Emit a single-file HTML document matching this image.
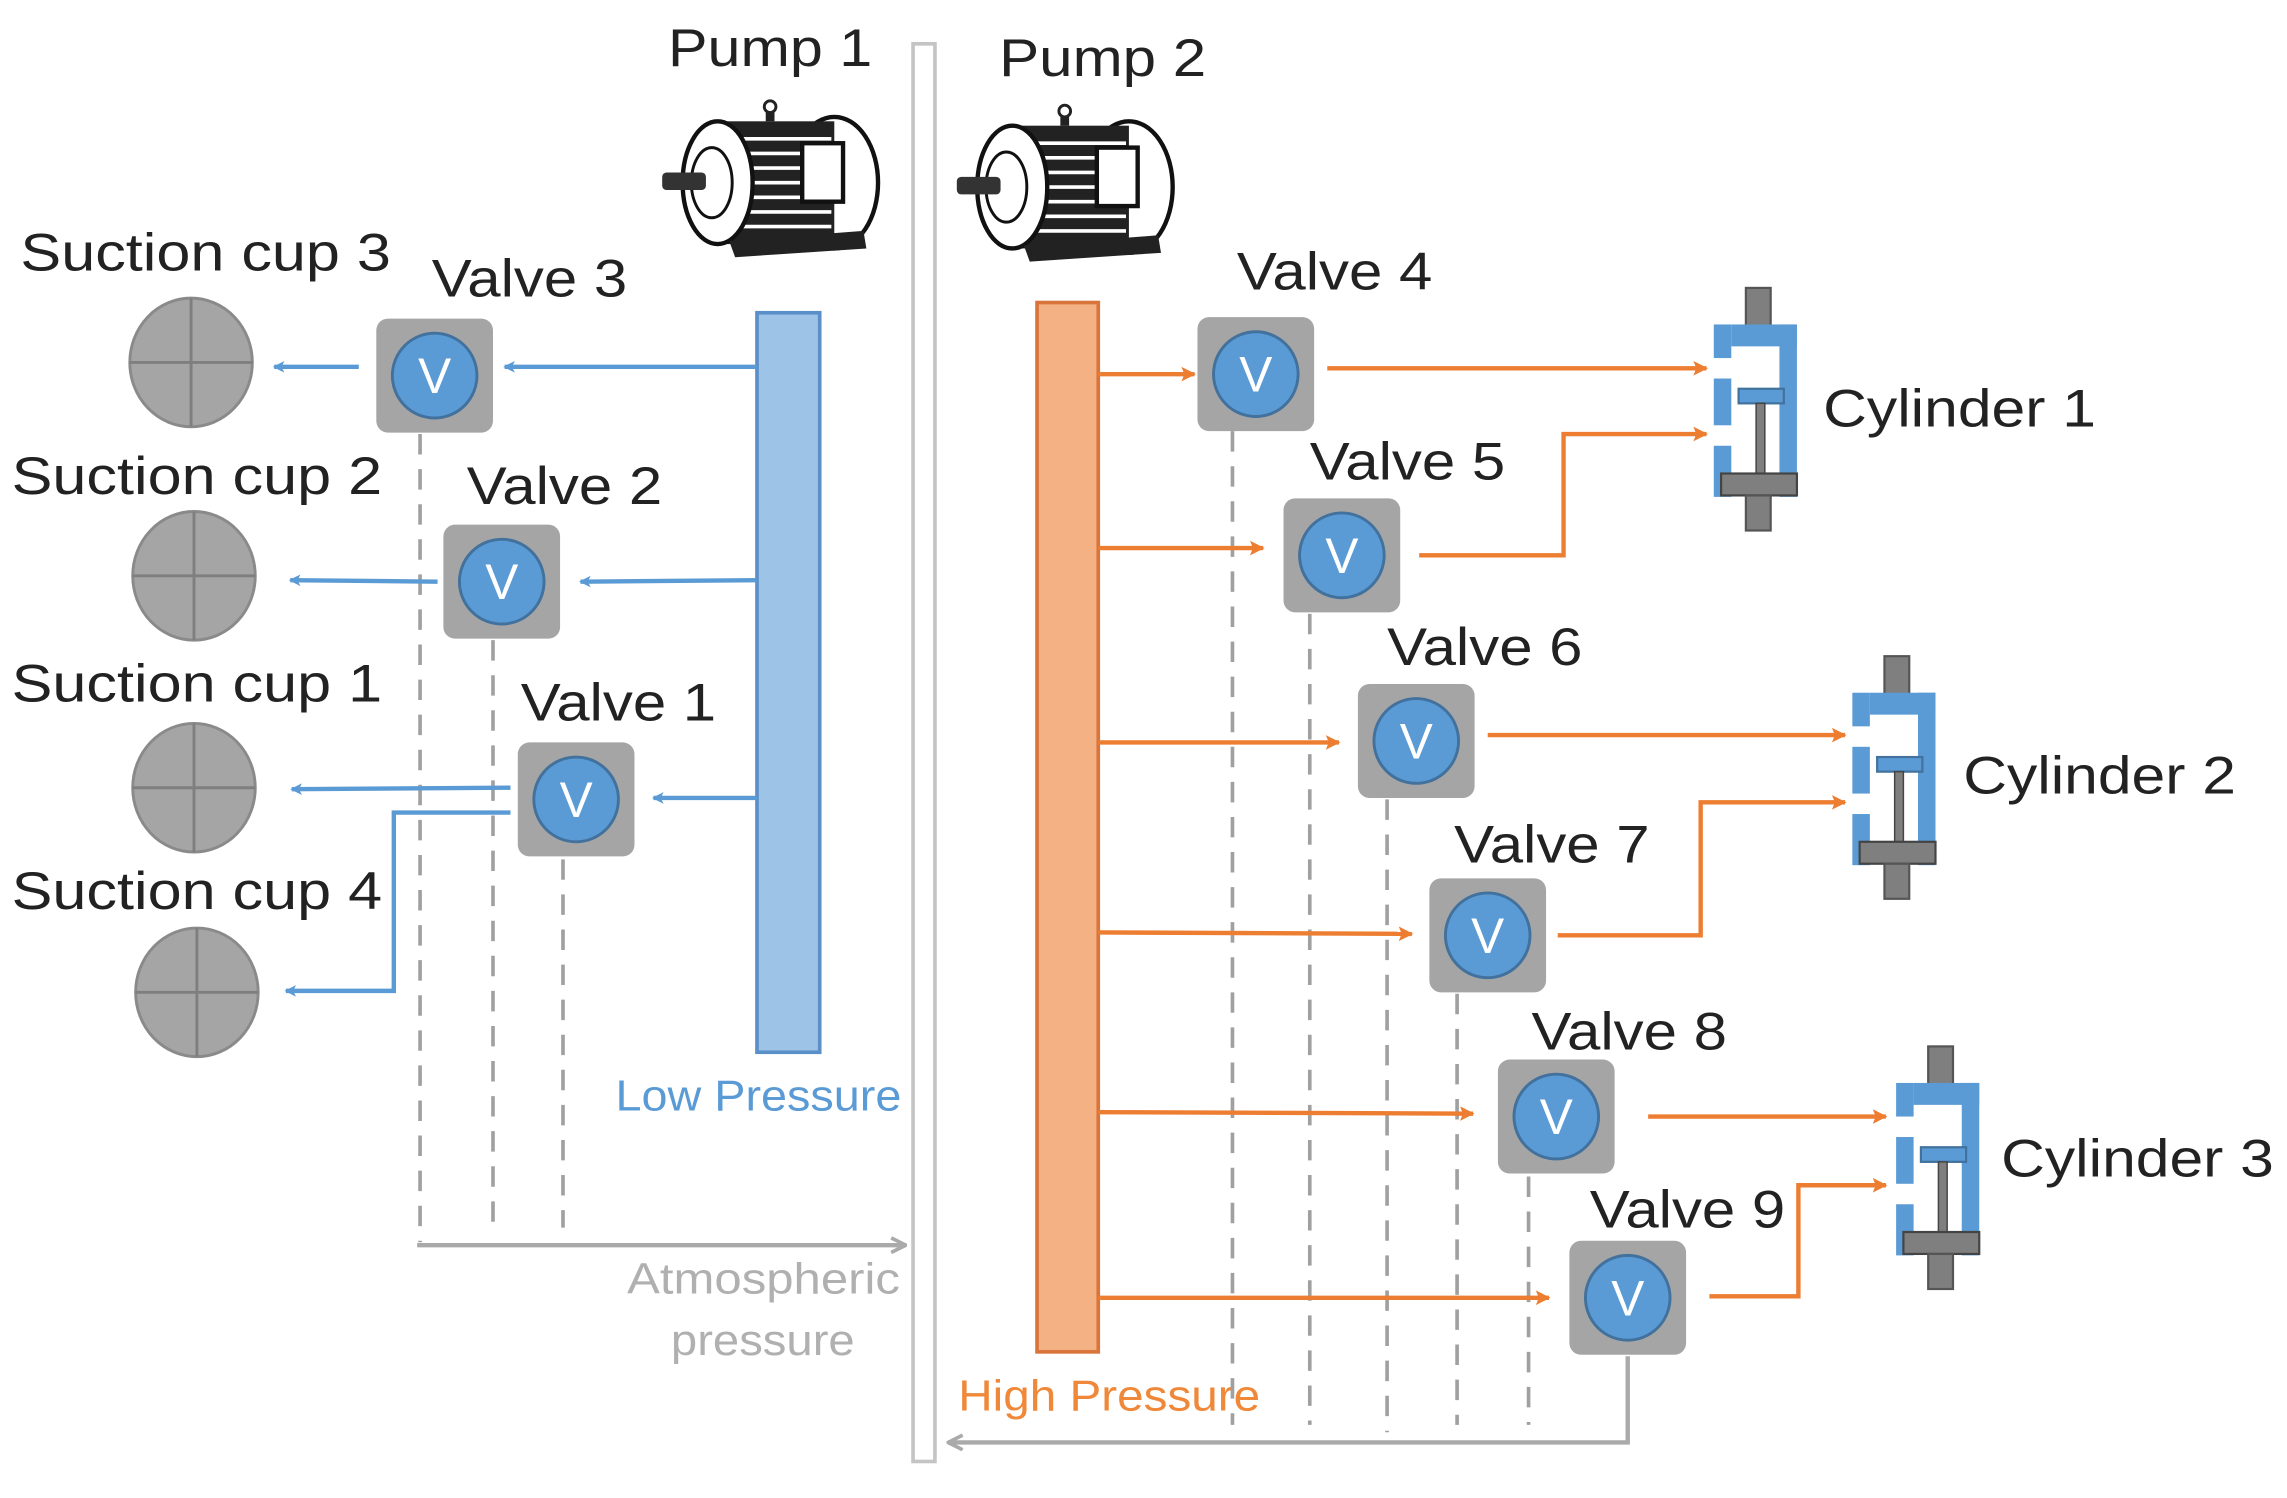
<!DOCTYPE html>
<html><head><meta charset="utf-8"><style>
html,body{margin:0;padding:0;background:#fff;}
svg{display:block;}
text{font-family:"Liberation Sans",sans-serif;}
</style></head><body>
<svg width="2287" height="1498" viewBox="0 0 1568 1025" preserveAspectRatio="none" xmlns="http://www.w3.org/2000/svg">
<defs>
<marker id="ab" markerWidth="8" markerHeight="8" refX="7" refY="4" orient="auto" markerUnits="userSpaceOnUse"><path d="M0,0 L8,4 L0,8 L2,4 Z" fill="#5b9bd5"/></marker>
<marker id="ao" markerWidth="10" markerHeight="10" refX="9" refY="5" orient="auto" markerUnits="userSpaceOnUse"><path d="M0,0 L10,5 L0,10 L2,5 Z" fill="#ed7d31"/></marker>
<marker id="ag" markerWidth="12" markerHeight="12" refX="11" refY="6" orient="auto" markerUnits="userSpaceOnUse"><path d="M1,1 L11,6 L1,11" fill="none" stroke="#aaa" stroke-width="2.5"/></marker>
<g id="valve">
<rect x="-40" y="-39" width="80" height="78" rx="8" fill="#a5a5a5"/>
<circle r="29" fill="#5b9bd5" stroke="#41719c" stroke-width="2"/>
<text x="0" y="12" text-anchor="middle" font-size="34" fill="#fff">V</text>
</g>
<g id="cup">
<ellipse rx="42" ry="44" fill="#a5a5a5" stroke="#8a8a8a" stroke-width="2"/>
<line x1="-42" y1="0" x2="42" y2="0" stroke="#7f7f7f" stroke-width="2"/>
<line x1="0" y1="-44" x2="0" y2="44" stroke="#7f7f7f" stroke-width="2"/>
</g>
<g id="cyl">
<rect x="22" y="0" width="17" height="26" fill="#7f7f7f" stroke="#555" stroke-width="1.5"/>
<rect x="0" y="25" width="12" height="23" fill="#5b9bd5"/>
<rect x="0" y="62" width="12" height="32" fill="#5b9bd5"/>
<rect x="0" y="108" width="12" height="35" fill="#5b9bd5"/>
<rect x="12" y="25" width="45" height="15" fill="#5b9bd5"/>
<rect x="45" y="25" width="12" height="118" fill="#5b9bd5"/>
<rect x="17" y="69" width="31" height="10" fill="#5b9bd5" stroke="#41719c" stroke-width="1.5"/>
<rect x="29" y="79" width="6" height="48" fill="#7f7f7f" stroke="#444" stroke-width="1"/>
<rect x="5" y="127" width="52" height="15" fill="#7f7f7f" stroke="#444" stroke-width="1.5"/>
<rect x="22" y="142" width="17" height="24" fill="#7f7f7f" stroke="#555" stroke-width="1.5"/>
</g>
<g id="motor">
<ellipse cx="120" cy="55" rx="30" ry="45" fill="#fff" stroke="#111" stroke-width="3"/>
<rect x="40" y="13" width="80" height="84" fill="#222"/>
<g stroke="#fff" stroke-width="2.5">
<line x1="48" y1="25" x2="118" y2="25"/><line x1="48" y1="35" x2="118" y2="35"/><line x1="48" y1="45" x2="118" y2="45"/><line x1="48" y1="55" x2="118" y2="55"/><line x1="48" y1="65" x2="118" y2="65"/><line x1="48" y1="75" x2="118" y2="75"/><line x1="48" y1="85" x2="118" y2="85"/>
</g>
<rect x="98" y="28" width="28" height="40" fill="#fff" stroke="#111" stroke-width="3"/>
<ellipse cx="40" cy="55" rx="24" ry="42" fill="#fff" stroke="#111" stroke-width="3"/>
<ellipse cx="36" cy="55" rx="14" ry="24" fill="#fff" stroke="#111" stroke-width="2"/>
<rect x="2" y="48" width="30" height="12" rx="3" fill="#333"/>
<path d="M48,95 L140,88 L142,100 L52,106 Z" fill="#222"/>
<rect x="73" y="0" width="6" height="13" fill="#222"/>
<circle cx="76" cy="3" r="4" fill="#fff" stroke="#222" stroke-width="2"/>
</g>
</defs>

<rect x="626" y="30" width="15" height="970" fill="#fff" stroke="#c4c4c4" stroke-width="2.5"/>

<text x="458" y="45" font-size="36" fill="#222" textLength="140" lengthAdjust="spacingAndGlyphs">Pump 1</text>
<text x="685" y="52" font-size="36" fill="#222" textLength="142" lengthAdjust="spacingAndGlyphs">Pump 2</text>
<use href="#motor" x="452" y="70"/>
<use href="#motor" x="654" y="73"/>

<rect x="519" y="214" width="43" height="506" fill="#9dc3e6" stroke="#5b8fc7" stroke-width="2.5"/>
<rect x="711" y="207" width="42" height="718" fill="#f4b183" stroke="#d9743a" stroke-width="2.5"/>
<text x="422" y="760" font-size="30" fill="#5b9bd5" textLength="196" lengthAdjust="spacingAndGlyphs">Low Pressure</text>
<text x="657" y="965" font-size="30" fill="#f0883a" textLength="207" lengthAdjust="spacingAndGlyphs">High Pressure</text>
<text x="430" y="885" font-size="30" fill="#b0b0b0" textLength="187" lengthAdjust="spacingAndGlyphs">Atmospheric</text>
<text x="460" y="927" font-size="30" fill="#b0b0b0" textLength="126" lengthAdjust="spacingAndGlyphs">pressure</text>

<g stroke="#a0a0a0" stroke-width="2.5" stroke-dasharray="14,10" fill="none">
<line x1="288" y1="297" x2="288" y2="850"/>
<line x1="338" y1="438" x2="338" y2="840"/>
<line x1="386" y1="588" x2="386" y2="840"/>
<line x1="845" y1="295" x2="845" y2="975"/>
<line x1="898" y1="420" x2="898" y2="975"/>
<line x1="951" y1="547" x2="951" y2="980"/>
<line x1="999" y1="680" x2="999" y2="975"/>
<line x1="1048" y1="805" x2="1048" y2="975"/>
</g>
<path d="M286,852 L621,852" stroke="#aaa" stroke-width="3" fill="none" marker-end="url(#ag)"/>
<path d="M1116,928 L1116,987 L650,987" stroke="#aaa" stroke-width="3" fill="none" marker-end="url(#ag)"/>

<use href="#cup" x="131" y="248"/>
<use href="#cup" x="133" y="394"/>
<use href="#cup" x="133" y="539"/>
<use href="#cup" x="135" y="679"/>
<g font-size="36" fill="#222">
<text x="14" y="185" textLength="254" lengthAdjust="spacingAndGlyphs">Suction cup 3</text>
<text x="8" y="338" textLength="254" lengthAdjust="spacingAndGlyphs">Suction cup 2</text>
<text x="8" y="480" textLength="254" lengthAdjust="spacingAndGlyphs">Suction cup 1</text>
<text x="8" y="622" textLength="254" lengthAdjust="spacingAndGlyphs">Suction cup 4</text>
</g>

<g stroke="#5b9bd5" stroke-width="3" fill="none">
<path d="M519,251 L346,251" marker-end="url(#ab)"/>
<path d="M246,251 L188,251" marker-end="url(#ab)"/>
<path d="M519,397 L398,398" marker-end="url(#ab)"/>
<path d="M300,398 L199,397" marker-end="url(#ab)"/>
<path d="M519,546 L448,546" marker-end="url(#ab)"/>
<path d="M350,539 L200,540" marker-end="url(#ab)"/>
<path d="M350,556 L270,556 L270,678 L196,678" marker-end="url(#ab)"/>
</g>

<g stroke="#ed7d31" stroke-width="3" fill="none">
<path d="M753,256 L819,256" marker-end="url(#ao)"/>
<path d="M753,375 L866,375" marker-end="url(#ao)"/>
<path d="M753,508 L918,508" marker-end="url(#ao)"/>
<path d="M753,638 L968,639" marker-end="url(#ao)"/>
<path d="M753,761 L1010,762" marker-end="url(#ao)"/>
<path d="M753,888 L1062,888" marker-end="url(#ao)"/>
<path d="M910,252 L1170,252" marker-end="url(#ao)"/>
<path d="M973,380 L1072,380 L1072,297 L1170,297" marker-end="url(#ao)"/>
<path d="M1020,503 L1265,503" marker-end="url(#ao)"/>
<path d="M1068,640 L1166,640 L1166,549 L1265,549" marker-end="url(#ao)"/>
<path d="M1130,764 L1293,764" marker-end="url(#ao)"/>
<path d="M1172,887 L1233,887 L1233,811 L1293,811" marker-end="url(#ao)"/>
</g>

<use href="#valve" x="298" y="257"/>
<use href="#valve" x="344" y="398"/>
<use href="#valve" x="395" y="547"/>
<use href="#valve" x="861" y="256"/>
<use href="#valve" x="920" y="380"/>
<use href="#valve" x="971" y="507"/>
<use href="#valve" x="1020" y="640"/>
<use href="#valve" x="1067" y="764"/>
<use href="#valve" x="1116" y="888"/>
<g font-size="36" fill="#222">
<text x="296" y="203" textLength="134" lengthAdjust="spacingAndGlyphs">Valve 3</text>
<text x="320" y="345" textLength="134" lengthAdjust="spacingAndGlyphs">Valve 2</text>
<text x="357" y="493" textLength="134" lengthAdjust="spacingAndGlyphs">Valve 1</text>
<text x="848" y="198" textLength="134" lengthAdjust="spacingAndGlyphs">Valve 4</text>
<text x="898" y="328" textLength="134" lengthAdjust="spacingAndGlyphs">Valve 5</text>
<text x="951" y="455" textLength="134" lengthAdjust="spacingAndGlyphs">Valve 6</text>
<text x="997" y="590" textLength="134" lengthAdjust="spacingAndGlyphs">Valve 7</text>
<text x="1050" y="718" textLength="134" lengthAdjust="spacingAndGlyphs">Valve 8</text>
<text x="1090" y="840" textLength="134" lengthAdjust="spacingAndGlyphs">Valve 9</text>
</g>

<use href="#cyl" x="1175" y="197"/>
<use href="#cyl" x="1270" y="449"/>
<use href="#cyl" x="1300" y="716"/>
<g font-size="36" fill="#222">
<text x="1250" y="292" textLength="187" lengthAdjust="spacingAndGlyphs">Cylinder 1</text>
<text x="1346" y="543" textLength="187" lengthAdjust="spacingAndGlyphs">Cylinder 2</text>
<text x="1372" y="805" textLength="187" lengthAdjust="spacingAndGlyphs">Cylinder 3</text>
</g>
</svg>
</body></html>
